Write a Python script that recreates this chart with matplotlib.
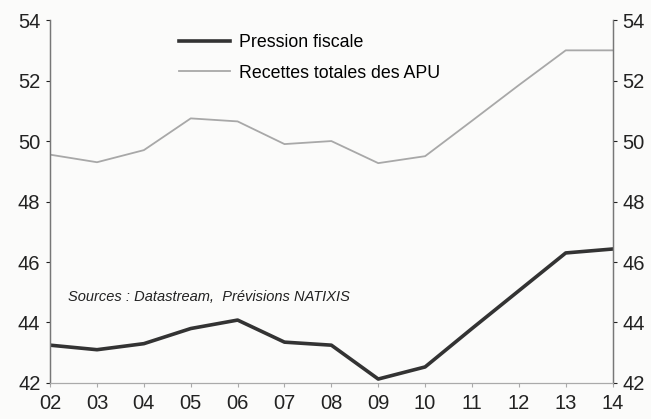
import matplotlib
matplotlib.use("Agg")
import matplotlib.pyplot as plt

years = ["02", "03", "04", "05", "06", "07", "08", "09", "10", "11", "12", "13", "14"]
pression_fiscale = [43.25, 43.1, 43.3, 43.8, 44.08, 43.35, 43.25, 42.13, 42.53, 43.8, 45.05, 46.3, 46.43]
recettes_totales = [49.55, 49.3, 49.7, 50.75, 50.65, 49.9, 50.0, 49.27, 49.5, 50.67, 51.85, 53.0, 53.0]
y_ticks = [42, 44, 46, 48, 50, 52, 54]

plt.rcParams['font.family'] = ['Liberation Sans', 'DejaVu Sans']

fig = plt.figure(figsize=(6.51, 4.19), dpi=100, facecolor='#fbfbfa')
ax = fig.add_axes([0.077, 0.086, 0.864, 0.866])
ax.set_facecolor('#fbfbfa')

x = list(range(len(years)))
ax.plot(x, pression_fiscale, color='#333333', lw=2.6, label='Pression fiscale', solid_joinstyle='round')
ax.plot(x, recettes_totales, color='#a8a8a8', lw=1.3, label='Recettes totales des APU')

ax.set_xlim(0, len(years) - 1)
ax.set_ylim(42, 54)
ax.set_xticks(x)
ax.set_xticklabels(years)
ax.set_yticks(y_ticks)

ax2 = ax.twinx()
ax2.set_ylim(42, 54)
ax2.set_yticks(y_ticks)

for a in (ax, ax2):
    a.spines['top'].set_visible(False)
    a.spines['left'].set_color('#777777')
    a.spines['right'].set_color('#777777')
    a.spines['bottom'].set_color('#aaaaaa')
    a.spines['left'].set_linewidth(0.9)
    a.spines['right'].set_linewidth(0.9)
    a.tick_params(axis='both', labelsize=14.5, colors='#222222', length=3, width=0.8, pad=4)
ax.tick_params(axis='x', colors='#aaaaaa', labelcolor='#222222', length=3, pad=5)

leg = ax.legend(loc='upper left', bbox_to_anchor=(0.2, 1.005), frameon=False, fontsize=12.8,
                handlelength=2.9, handletextpad=0.5, labelspacing=0.75)

ax.text(0.032, 0.237, 'Sources : Datastream,  Prévisions NATIXIS', transform=ax.transAxes,
        fontsize=10.5, style='italic', color='#222222', va='center')

fig.savefig('out.png', dpi=100, facecolor=fig.get_facecolor())
